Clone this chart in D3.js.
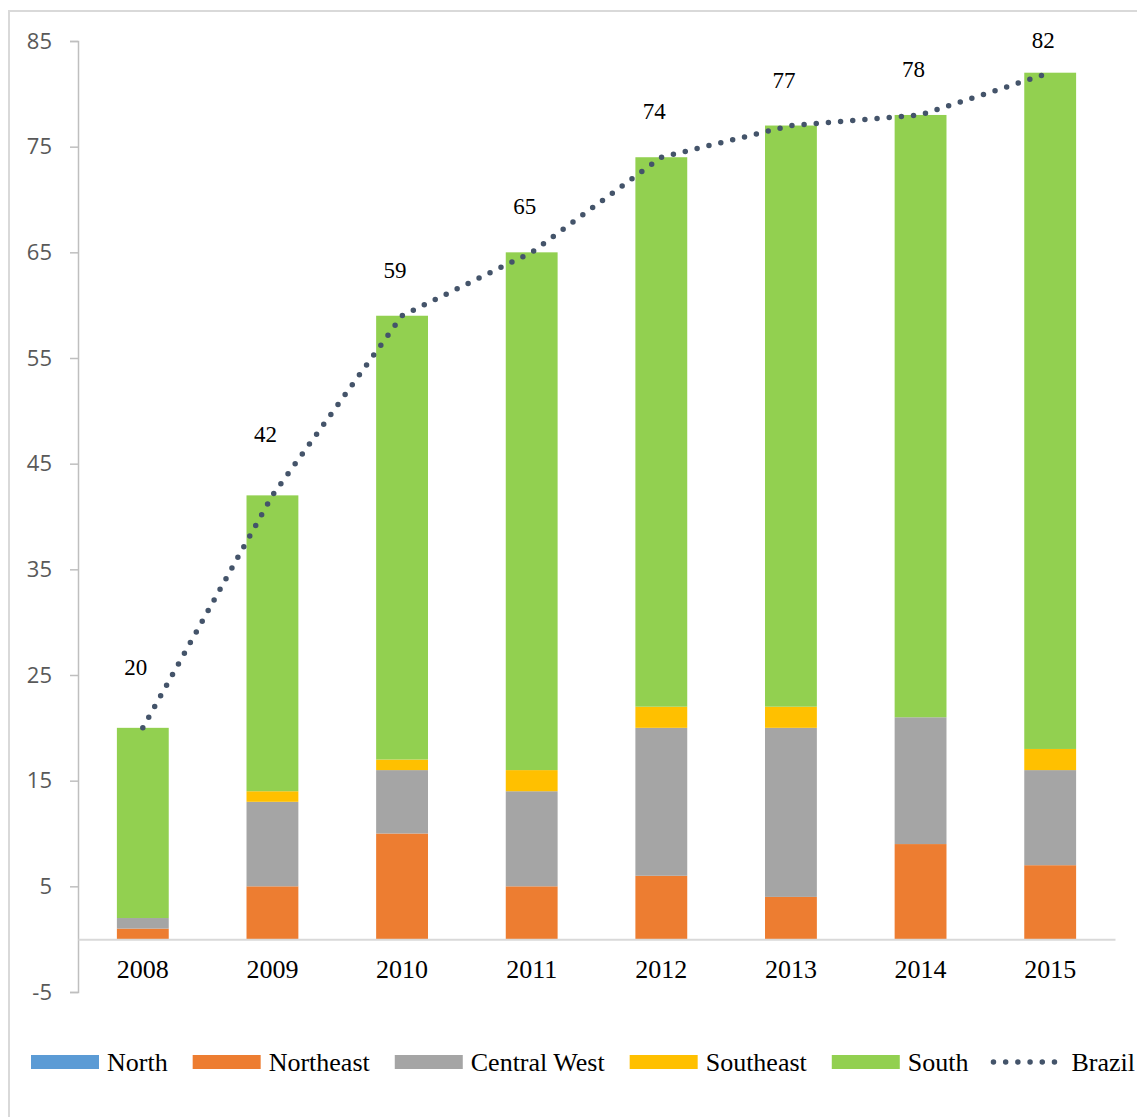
<!DOCTYPE html>
<meta charset="utf-8">
<title>Regions stacked</title>
<style>
    body { margin: 0; background: #fff; }
    .yaxis text { font-family: "Open Sans", sans-serif; font-size: 22px; fill: #595959; }
    .xaxis text { font-family: "Liberation Serif", "Times New Roman", serif; font-size: 26px; fill: #000; }
    .lbl { font-family: "Liberation Serif", "Times New Roman", serif; font-size: 23px; fill: #000; }
    .legend text { font-family: "Liberation Serif", "Times New Roman", serif; font-size: 26px; fill: #000; }
    .brazil { fill: none; stroke: #44546a; stroke-width: 5.5; stroke-linecap: round; stroke-dasharray: 0 12.2; }
</style>
<body>
<svg width="1137" height="1117"></svg>
<script src="https://d3js.org/d3.v7.min.js"></script>
<script>
    var years = ["2008", "2009", "2010", "2011", "2012", "2013", "2014", "2015"];
    var regions = ["North", "Northeast", "Central West", "Southeast", "South"];
    var north       = [0, 0, 0, 0, 0, 0, 0, 0];
    var northeast   = [1, 5, 10, 5, 6, 4, 9, 7];
    var centralWest = [1, 8, 6, 9, 14, 16, 12, 9];
    var southeast   = [0, 1, 1, 2, 2, 2, 0, 2];
    var south       = [18, 28, 42, 49, 52, 55, 57, 64];
    var brazil      = [20, 42, 59, 65, 74, 77, 78, 82];
    var yTicks = [-5, 5, 15, 25, 35, 45, 55, 65, 75, 85];
    var colors = ["#5b9bd5", "#ed7d31", "#a5a5a5", "#ffc000", "#92d050"];

    var series = [north, northeast, centralWest, southeast, south];
    var rows = years.map(function(y, i) {
        var r = { year: y };
        regions.forEach(function(k, j) { r[k] = series[j][i]; });
        return r;
    });
    var stacked = d3.stack().keys(regions)(rows);

    var svg = d3.select("svg");

    // outer chart border (runs off the right/bottom edge)
    svg.append("rect")
        .attr("x", 9).attr("y", 11)
        .attr("width", 1300).attr("height", 1300)
        .attr("fill", "none").attr("stroke", "#d9d9d9").attr("stroke-width", 2);

    var x = d3.scaleBand().domain(years).range([78, 1115]).padding(0);
    var y = d3.scaleLinear().domain([-5, 85]).range([992, 41]);
    var bw = x.bandwidth() * 0.4;

    // y axis
    var yAxis = svg.append("g")
        .attr("class", "yaxis")
        .attr("transform", "translate(78,0)")
        .call(d3.axisLeft(y).tickValues(yTicks).tickSize(8).tickPadding(18)
            .tickFormat(function(d) { return String(d); }));
    yAxis.attr("font-family", null).attr("font-size", null);
    yAxis.select(".domain").attr("stroke", "#bfbfbf").attr("stroke-width", 1.5);
    yAxis.selectAll(".tick line").attr("stroke", "#bfbfbf").attr("stroke-width", 1.5);

    // bars
    svg.append("g").selectAll("g")
        .data(stacked)
        .enter().append("g")
        .attr("fill", function(d, i) { return colors[i]; })
        .selectAll("rect")
        .data(function(d) { return d; })
        .enter().append("rect")
        .attr("x", function(d) { return x(d.data.year) + (x.bandwidth() - bw) / 2; })
        .attr("width", bw)
        .attr("y", function(d) { return y(d[1]); })
        .attr("height", function(d) { return y(d[0]) - y(d[1]); });

    // x axis at zero
    var xAxis = svg.append("g")
        .attr("class", "xaxis")
        .attr("transform", "translate(0," + y(0) + ")")
        .call(d3.axisBottom(x).tickSize(0).tickPadding(20));
    xAxis.attr("font-family", null).attr("font-size", null);
    xAxis.select(".domain").attr("stroke", "#d9d9d9").attr("stroke-width", 2);

    // Brazil line
    var cx = function(i) { return x(years[i]) + x.bandwidth() / 2; };
    var line = d3.line()
        .x(function(d, i) { return cx(i); })
        .y(function(d) { return y(d); });
    svg.append("path").attr("class", "brazil").attr("d", line(brazil));

    svg.append("g").selectAll("text")
        .data(brazil)
        .enter().append("text")
        .attr("class", "lbl")
        .attr("text-anchor", "middle")
        .attr("x", function(d, i) { return cx(i) - 7; })
        .attr("y", function(d, i) {
            var prev = i > 0 ? Math.abs(d - brazil[i - 1]) : 0;
            var next = i < brazil.length - 1 ? Math.abs(brazil[i + 1] - d) : 0;
            var up = Math.max(prev, next) > 17 ? 61 : 46;
            // keep labels inside the plot area
            return Math.max(48, y(d) - up + 8);
        })
        .text(function(d) { return d; });

    // legend
    var legend = svg.append("g").attr("class", "legend");
    var items = regions.concat(["Brazil"]);
    var lx = 31, ly = 1062;
    items.forEach(function(name, i) {
        var g = legend.append("g");
        var tx;
        if (i < regions.length) {
            g.append("rect").attr("x", lx).attr("y", ly - 7).attr("width", 68).attr("height", 14)
                .attr("fill", colors[i]);
            tx = lx + 76;
        } else {
            g.append("line").attr("x1", lx).attr("x2", lx + 62).attr("y1", ly).attr("y2", ly)
                .attr("class", "brazil");
            tx = lx + 78;
        }
        var t = g.append("text").attr("x", tx).attr("y", ly + 9).text(name);
        lx = tx + t.node().getComputedTextLength() + 25;
    });
</script>
</body>
